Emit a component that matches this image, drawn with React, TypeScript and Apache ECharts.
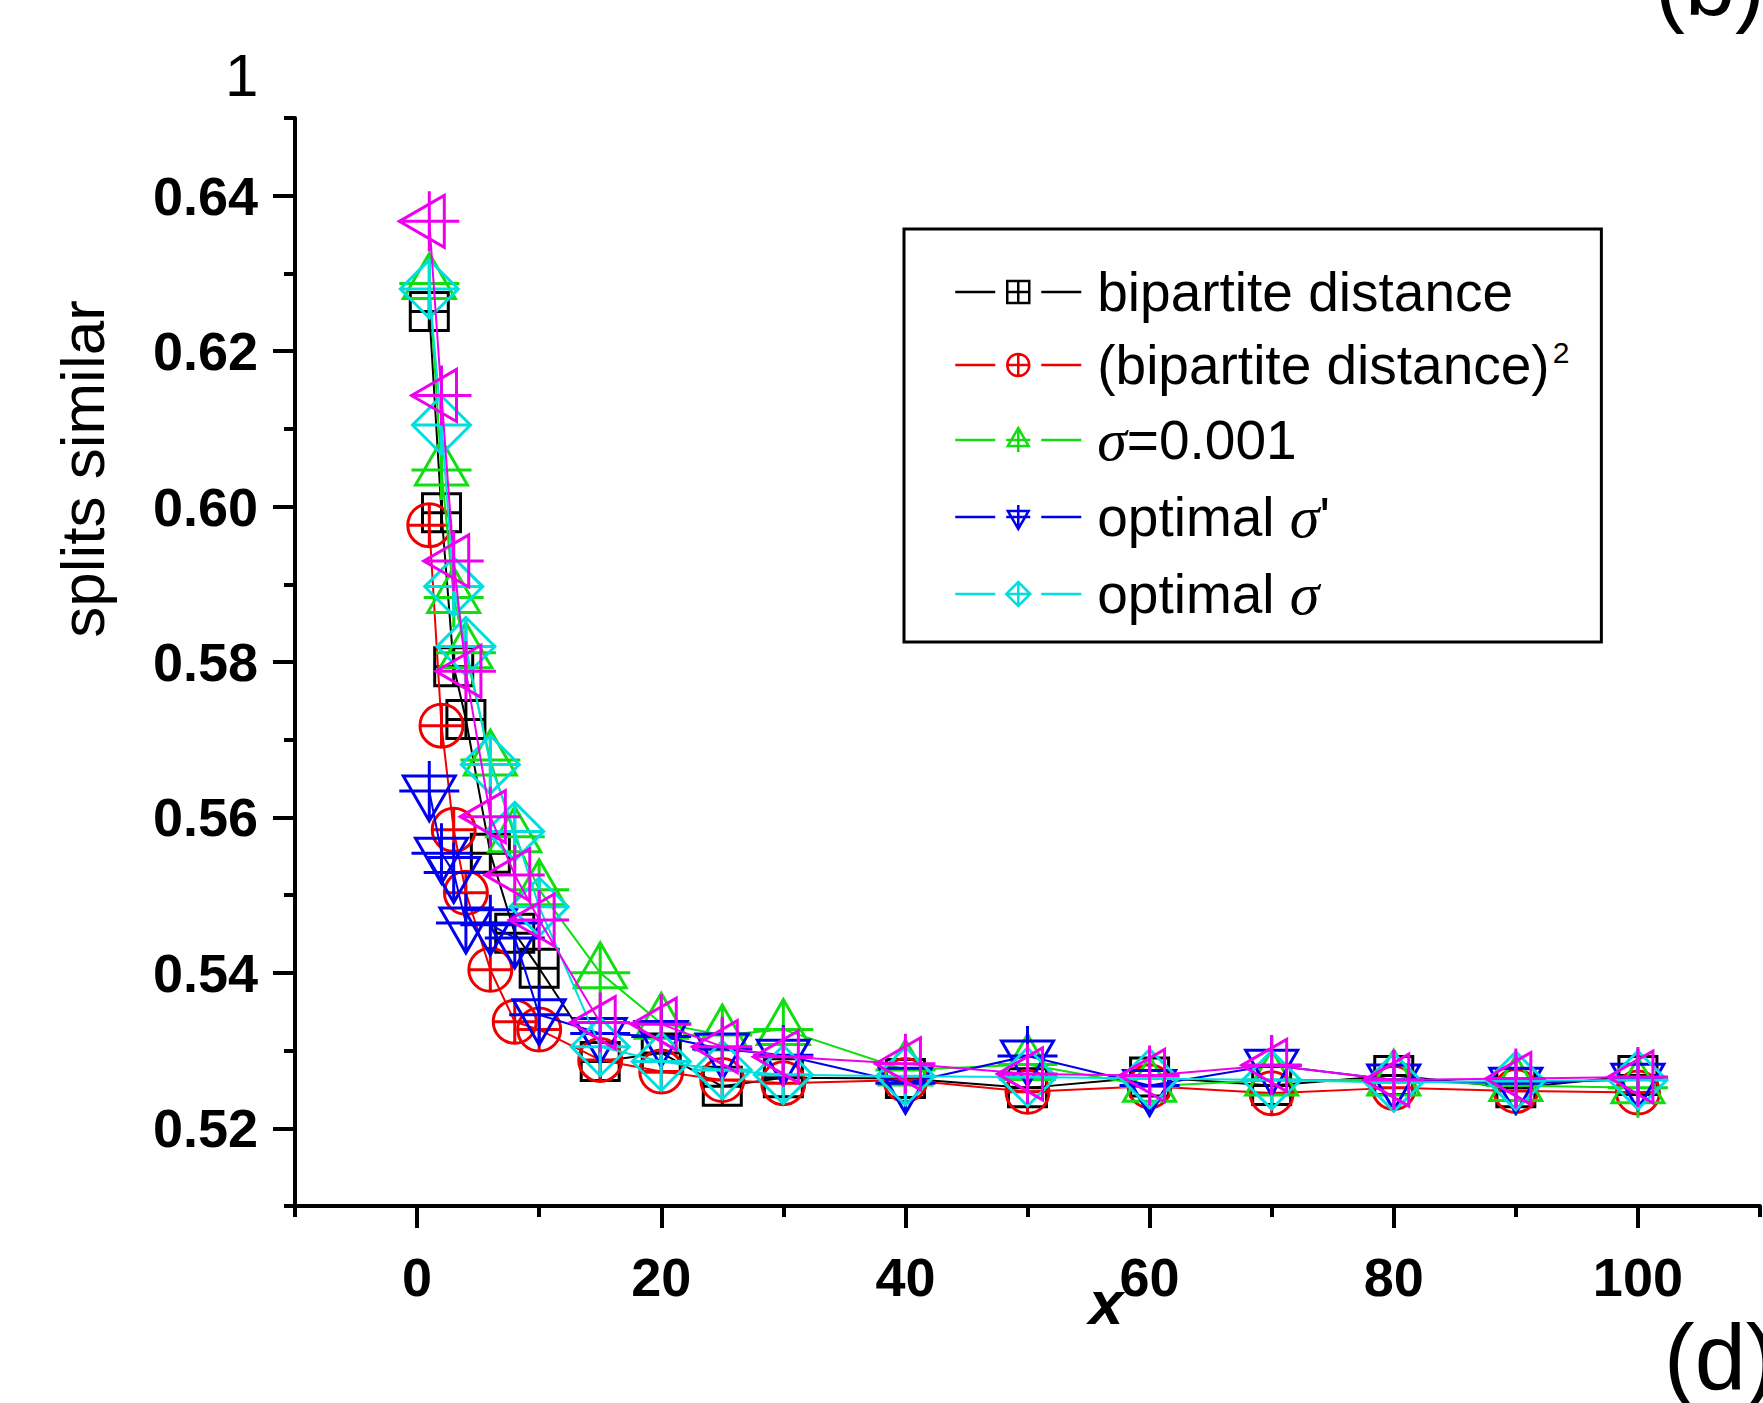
import React, { useEffect, useRef } from 'react';
import * as echarts from 'echarts';

const xValues = [1, 2, 3, 4, 6, 8, 10, 15, 20, 25, 30, 40, 50, 60, 70, 80, 90, 100];
const bipartiteDistance = [0.6251, 0.5992, 0.5794, 0.5726, 0.5554, 0.5451, 0.5406, 0.5286, 0.5297, 0.5254, 0.5265, 0.5264, 0.5252, 0.5266, 0.5255, 0.5268, 0.5252, 0.5268];
const bipartiteSquared = [0.5976, 0.5718, 0.5584, 0.5503, 0.5404, 0.5337, 0.5327, 0.5288, 0.5273, 0.5262, 0.5258, 0.5262, 0.5247, 0.5254, 0.5245, 0.5252, 0.5248, 0.5246];
const sigma0001 = [0.6287, 0.6047, 0.5883, 0.5812, 0.5674, 0.5575, 0.5507, 0.54, 0.5335, 0.532, 0.5327, 0.5275, 0.5282, 0.5254, 0.5262, 0.5262, 0.5255, 0.5252];
const optimalSigmaPrime = [0.5634, 0.5554, 0.5529, 0.5464, 0.5462, 0.5445, 0.5346, 0.5322, 0.5318, 0.5302, 0.5294, 0.5258, 0.5293, 0.5255, 0.5281, 0.5262, 0.5258, 0.5263];
const optimalSigma = [0.628, 0.6105, 0.5897, 0.582, 0.5668, 0.5582, 0.5485, 0.5305, 0.5286, 0.5275, 0.5269, 0.5267, 0.5266, 0.5264, 0.5262, 0.5259, 0.5261, 0.5262];
const extraSeries = [0.6367, 0.6143, 0.593, 0.5788, 0.5601, 0.5526, 0.5468, 0.5336, 0.5334, 0.5305, 0.5292, 0.5283, 0.527, 0.5268, 0.5281, 0.5262, 0.5264, 0.5266];

const xMajorTicks = [0, 20, 40, 60, 80, 100];
const xMinorTicks = [-10, 10, 30, 50, 70, 90, 110];
const yMajorTicks = [0.52, 0.54, 0.56, 0.58, 0.6, 0.62, 0.64];
const yMinorTicks = [0.51, 0.53, 0.55, 0.57, 0.59, 0.61, 0.63, 0.65];

const seriesNames = ['bipartite distance', '(bipartite distance)^2', 'sigma=0.001', "optimal sigma'", 'optimal sigma', 'extra'];
const legendLabels = ['bipartite distance', '(bipartite distance){sup|2}', '{sig|σ}=0.001', "optimal {sig|σ}'", 'optimal {sig|σ}'];
const colors = ['#000000', '#ee0000', '#11dd11', '#0000ee', '#00dede', '#ee00ee'];

const SYM_SQUARE = 'path://M0,0L38,0L38,38L0,38ZM19,0L19,38M0,19L38,19';
const SYM_CIRCLE = 'path://M0,21.5A21.5,21.5,0,1,1,43,21.5A21.5,21.5,0,1,1,0,21.5ZM21.5,0L21.5,43M0,21.5L43,21.5';
const SYM_UP = 'path://M30,0L56,45L4,45ZM30,0L30,60M0,30L60,30';
const SYM_DOWN = 'path://M4,15L56,15L30,60ZM30,0L30,60M0,30L60,30';
const SYM_DIAMOND = 'path://M29,0L58,29L29,58L0,29ZM29,0L29,58M0,29L58,29';
const SYM_LEFT = 'path://M0,30L45,4L45,56ZM30,0L30,60M0,30L60,30';

const LINES = 'M0,12L40,12M86,12L126,12';
const ICONS = [
  'path://' + LINES + 'M52,1L74,1L74,23L52,23ZM63,1L63,23M52,12L74,12',
  'path://' + LINES + 'M52,12A11,11,0,1,1,74,12A11,11,0,1,1,52,12ZM63,1L63,23M52,12L74,12',
  'path://' + LINES + 'M63,0L73.4,18L52.6,18ZM63,0L63,24M51,12L75,12',
  'path://' + LINES + 'M52.6,6L73.4,6L63,24ZM63,0L63,24M51,12L75,12',
  'path://' + LINES + 'M63,0L75,12L63,24L51,12ZM63,0L63,24M51,12L75,12',
];

const seriesValues = [bipartiteDistance, bipartiteSquared, sigma0001, optimalSigmaPrime, optimalSigma, extraSeries];
const symbols = [SYM_SQUARE, SYM_CIRCLE, SYM_UP, SYM_DOWN, SYM_DIAMOND, SYM_LEFT];
const symbolSizes = [[38, 38], [43, 43], [60, 60], [60, 60], [58, 58], [60, 60]];

const FONT = 'Liberation Sans';

export default function App() {
  const ref = useRef<HTMLDivElement>(null);

  useEffect(() => {
    document.body.style.margin = '0';
    const chart = echarts.init(ref.current!, null, { renderer: 'svg' });

    const series = seriesValues.map((vals, i) => ({
      type: 'line',
      name: seriesNames[i],
      data: xValues.map((x, j) => [x, vals[j]]),
      xAxisIndex: 0,
      yAxisIndex: 0,
      symbol: symbols[i],
      symbolSize: symbolSizes[i],
      showAllSymbol: true,
      itemStyle: { color: 'transparent', borderColor: colors[i], borderWidth: 3 },
      lineStyle: { color: colors[i], width: 2 },
      emphasis: { disabled: true },
      silent: true,
      z: 2 + i,
    }));

    const labelStyle = { fontFamily: FONT, fontWeight: 'bold', fontSize: 54, color: '#000' };

    chart.setOption({
      animation: false,
      backgroundColor: '#ffffff',
      grid: { left: 295, right: 3, top: 118, bottom: 197, containLabel: false },
      xAxis: [
        {
          type: 'value', min: -10, max: 110, position: 'bottom',
          axisLine: { show: true, onZero: false, lineStyle: { color: '#000', width: 4 } },
          axisTick: { show: true, customValues: xMajorTicks, length: 22, lineStyle: { color: '#000', width: 4 } },
          axisLabel: { show: true, customValues: xMajorTicks, margin: 44, ...labelStyle },
          splitLine: { show: false },
        },
        {
          type: 'value', min: -10, max: 110, position: 'bottom', offset: 0,
          axisLine: { show: false, onZero: false },
          axisTick: { show: true, customValues: xMinorTicks, length: 11, lineStyle: { color: '#000', width: 4 } },
          axisLabel: { show: false },
          splitLine: { show: false },
        },
      ],
      yAxis: [
        {
          type: 'value', min: 0.51, max: 0.65, position: 'left',
          axisLine: { show: true, onZero: false, lineStyle: { color: '#000', width: 4 } },
          axisTick: { show: true, customValues: yMajorTicks, length: 22, lineStyle: { color: '#000', width: 4 } },
          axisLabel: { show: true, customValues: yMajorTicks, margin: 37, formatter: (v: number) => v.toFixed(2), ...labelStyle },
          splitLine: { show: false },
        },
        {
          type: 'value', min: 0.51, max: 0.65, position: 'left', offset: 0,
          axisLine: { show: false, onZero: false },
          axisTick: { show: true, customValues: yMinorTicks, length: 11, lineStyle: { color: '#000', width: 4 } },
          axisLabel: { show: false },
          splitLine: { show: false },
        },
      ],
      legend: {
        orient: 'vertical',
        left: 904,
        top: 229,
        padding: [35, 32, 18, 50],
        borderColor: '#000',
        borderWidth: 3,
        backgroundColor: '#ffffff',
        itemWidth: 126,
        itemHeight: 24,
        itemGap: 17,
        selectedMode: false,
        data: legendLabels.map((_, i) => ({
          name: seriesNames[i],
          icon: ICONS[i],
          itemStyle: { color: 'transparent', borderColor: colors[i], borderWidth: 2.5 },
        })),
        formatter: (name: string) => legendLabels[seriesNames.indexOf(name)],
        textStyle: {
          fontFamily: FONT,
          fontSize: 55,
          color: '#000',
          lineHeight: 56,
          padding: [0, 0, 0, 11],
          rich: {
            sup: { fontFamily: FONT, fontSize: 30, lineHeight: 30, color: '#000', verticalAlign: 'top', padding: [0, 0, 0, 3] },
            sig: { fontFamily: 'Liberation Serif', fontStyle: 'italic', fontSize: 60, lineHeight: 56, color: '#000' },
          },
        },
      },
      graphic: [
        {
          type: 'text', x: 82, y: 469, rotation: Math.PI / 2,
          style: { text: 'splits similar', fontFamily: FONT, fontSize: 62, fill: '#000', align: 'center', verticalAlign: 'middle' },
        },
        {
          type: 'text', x: 1106, y: 1302,
          style: { text: 'x', fontFamily: FONT, fontSize: 62, fontWeight: 'bold', fontStyle: 'italic', fill: '#000', align: 'center', verticalAlign: 'middle' },
        },
        {
          type: 'text', x: 225, y: 75,
          style: { text: '1', fontFamily: FONT, fontSize: 60, fill: '#000', align: 'left', verticalAlign: 'middle' },
        },
        {
          type: 'text', x: 1655, y: -16,
          style: { text: '(b)', fontFamily: FONT, fontSize: 90, fill: '#000', align: 'left', verticalAlign: 'middle' },
        },
        {
          type: 'text', x: 1664, y: 1357,
          style: { text: '(d)', fontFamily: FONT, fontSize: 92, fill: '#000', align: 'left', verticalAlign: 'middle' },
        },
      ],
      series,
    });

    return () => chart.dispose();
  }, []);

  return <div ref={ref} style={{ position: 'absolute', left: 0, top: 0, width: 1763, height: 1403 }} />;
}
